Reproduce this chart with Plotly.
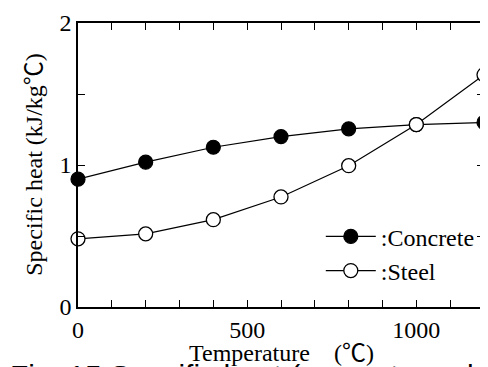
import plotly.graph_objects as go

temperature = [0, 200, 400, 600, 800, 1000, 1200]
concrete = [0.90, 1.02, 1.125, 1.20, 1.255, 1.285, 1.30]
steel = [0.48, 0.515, 0.615, 0.775, 0.995, 1.285, 1.635]

x_tickvals = [0, 100, 200, 300, 400, 500, 600, 700, 800, 900, 1000, 1100, 1200]
x_ticktext = ["0", "", "", "", "", "500", "", "", "", "", "1000", "", ""]
y_tickvals = [0, 0.5, 1, 1.5, 2]
y_ticktext = ["0", "", "1", "", "2"]

# page body has an 8px margin: figure origin sits at screen (8, 8)
OFF = 8
W, H = 488 - OFF, 367 - OFF
ML, MR, MT, MB = 78 - OFF, 2, 16 - OFF, 60
PW, PH = W - ML - MR, H - MT - MB

serif = "Liberation Serif, Times New Roman, Noto Sans CJK JP, serif"

def px_x(p):  # screen pixel -> paper
    return (p - OFF - ML) / PW

def px_y(p):
    return (H - MB - (p - OFF)) / PH

fig = go.Figure()
fig.add_trace(go.Scatter(
    x=temperature, y=concrete, mode="lines+markers", name=":Concrete",
    line=dict(color="black", width=1.2),
    marker=dict(symbol="circle", size=14, color="black", line=dict(color="black", width=1.2)),
    cliponaxis=False,
))
fig.add_trace(go.Scatter(
    x=temperature, y=steel, mode="lines+markers", name=":Steel",
    line=dict(color="black", width=1.2),
    marker=dict(symbol="circle", size=14, color="white", line=dict(color="black", width=1.3)),
    cliponaxis=False,
))

axis_common = dict(
    showline=True, linecolor="black", linewidth=1.5, mirror="ticks",
    ticks="inside", ticklen=7, tickwidth=1, tickcolor="black",
    showgrid=False, zeroline=False, ticklabeloverflow="allow",
    tickfont=dict(family=serif, size=24, color="black"),
)
fig.update_xaxes(range=[0, 1200], tickmode="array", tickvals=x_tickvals, ticktext=x_ticktext, **axis_common)
fig.update_yaxes(range=[0, 2], tickmode="array", tickvals=y_tickvals, ticktext=y_ticktext,
                 ticklabelstandoff=0, **axis_common)

fig.add_annotation(text="Specific heat (kJ/kg℃)", xref="paper", yref="paper",
                   x=px_x(33), y=px_y(161), textangle=-90, showarrow=False,
                   xanchor="center", yanchor="middle",
                   font=dict(family=serif, size=24, color="black"))
fig.add_annotation(text="Temperature　(℃)", xref="paper", yref="paper",
                   x=px_x(283), y=px_y(354), showarrow=False,
                   xanchor="center", yanchor="middle",
                   font=dict(family=serif, size=24, color="black"))
fig.add_annotation(text="Fig. 15 Specific heat (concrete and steel)", xref="paper", yref="paper",
                   x=px_x(8), y=px_y(377), showarrow=False,
                   xanchor="left", yanchor="middle",
                   font=dict(family="Liberation Sans, Arial, sans-serif", size=30, color="black"))

fig.update_layout(
    width=W, height=H,
    margin=dict(l=ML, r=MR, t=MT, b=MB),
    paper_bgcolor="white", plot_bgcolor="white",
    showlegend=True,
    legend=dict(x=px_x(322), y=px_y(212), xanchor="left", yanchor="top",
                bgcolor="rgba(0,0,0,0)", borderwidth=0,
                font=dict(family=serif, size=24, color="black"),
                itemwidth=50, tracegroupgap=0),
)

fig.write_html("out.html")
